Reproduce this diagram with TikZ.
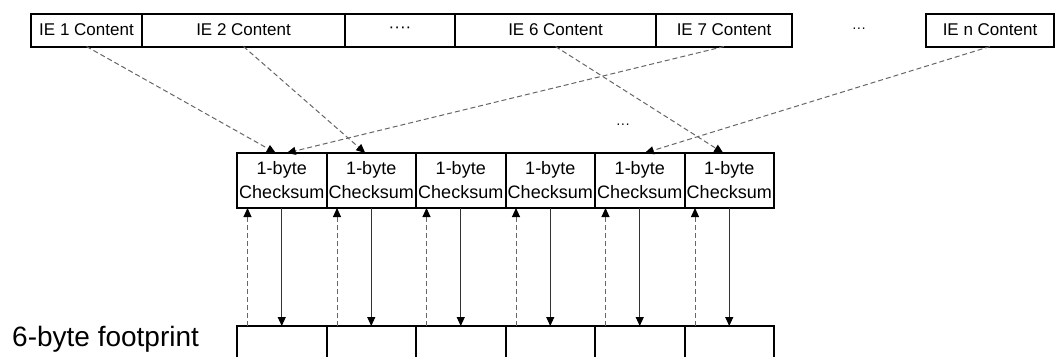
\documentclass[tikz,border=0pt]{standalone}
\usepackage{fontspec}
\setmainfont{Liberation Sans}
\definecolor{dashgrey}{HTML}{666666}
\definecolor{darkgrey}{HTML}{333333}
\usetikzlibrary{arrows.meta, positioning}

\begin{document}
\begin{tikzpicture}[
        x=1pt, y=-1pt,
        iebox/.style={rectangle, draw, line width=2pt, outer sep=0pt, inner sep=0pt, minimum height=33pt, font=\fontsize{17}{20}\selectfont},
        sumbox/.style={rectangle, draw, line width=2pt, outer sep=0pt, inner sep=0pt, minimum width=89.5pt, minimum height=55pt, align=center, font=\fontsize{18}{24}\selectfont},
        footbox/.style={rectangle, draw, line width=2pt, outer sep=0pt, minimum width=89.5pt, minimum height=60pt},
        dots/.style={inner sep=0pt, font=\fontsize{14}{16}\selectfont},
        map/.style={draw=dashgrey, line width=1pt, dash pattern=on 5pt off 3pt, -{Triangle[length=9pt, width=8pt, color=black]}},
        fetch/.style={draw=darkgrey, line width=1pt, -{Triangle[length=9pt, width=8pt, color=black]}}
    ]
        \useasboundingbox (0,0) rectangle (1056,356);
        \clip (0,0) rectangle (1056,356);

        % IE content row (top)
        \node [iebox, minimum width=111pt, anchor=north west] (ie1) at (31,13.5) {IE 1 Content};
        \node [iebox, minimum width=203pt, right=0pt of ie1] (ie2) {IE 2 Content};
        \node [iebox, minimum width=110pt, right=0pt of ie2] (iegap) {\raisebox{-2pt}{····}};
        \node [iebox, minimum width=201pt, right=0pt of iegap] (ie6) {IE 6 Content};
        \node [iebox, minimum width=136pt, right=0pt of ie6] (ie7) {IE 7 Content};
        \node [dots] (topdots) at (859,30) {···};
        \node [iebox, minimum width=128pt, anchor=north west] (ien) at (926,13.5) {IE n Content};

        % Checksum row (middle)
        \node [sumbox, anchor=north west] (sum1) at (237,153) {1-byte\\Checksum};
        \node [sumbox, right=0pt of sum1] (sum2) {1-byte\\Checksum};
        \node [sumbox, right=0pt of sum2] (sum3) {1-byte\\Checksum};
        \node [sumbox, right=0pt of sum3] (sum4) {1-byte\\Checksum};
        \node [sumbox, right=0pt of sum4] (sum5) {1-byte\\Checksum};
        \node [sumbox, right=0pt of sum5] (sum6) {1-byte\\Checksum};
        \node [dots] (middots) at (623,126) {···};

        % Footprint row (bottom, cut off by the frame)
        \node [footbox, anchor=north west] (foot1) at (237,326) {};
        \node [footbox, right=0pt of foot1] (foot2) {};
        \node [footbox, right=0pt of foot2] (foot3) {};
        \node [footbox, right=0pt of foot3] (foot4) {};
        \node [footbox, right=0pt of foot4] (foot5) {};
        \node [footbox, right=0pt of foot5] (foot6) {};
        \node [anchor=base west, inner sep=0pt, font=\fontsize{28}{32}\selectfont] (footlabel) at (12,346) {6-byte footprint};

        % IE content -> checksum
        \draw [map] (ie1.south) -- ([xshift=-6pt]sum1.north);
        \draw [map] (ie7.south) -- ([xshift=5pt]sum1.north);
        \draw [map] (ie2.south) -- ([xshift=-6pt]sum2.north);
        \draw [map] (ien.south) -- ([xshift=5pt]sum5.north);
        \draw [map] (ie6.south) -- ([xshift=-6pt]sum6.north);

        % Footprint <-> checksum
        \draw [map] ([xshift=10.5pt]foot1.north west) -- ([xshift=10.5pt]sum1.south west);
        \draw [fetch] (sum1.south) -- (foot1.north);
        \draw [map] ([xshift=10.5pt]foot2.north west) -- ([xshift=10.5pt]sum2.south west);
        \draw [fetch] (sum2.south) -- (foot2.north);
        \draw [map] ([xshift=10.5pt]foot3.north west) -- ([xshift=10.5pt]sum3.south west);
        \draw [fetch] (sum3.south) -- (foot3.north);
        \draw [map] ([xshift=10.5pt]foot4.north west) -- ([xshift=10.5pt]sum4.south west);
        \draw [fetch] (sum4.south) -- (foot4.north);
        \draw [map] ([xshift=10.5pt]foot5.north west) -- ([xshift=10.5pt]sum5.south west);
        \draw [fetch] (sum5.south) -- (foot5.north);
        \draw [map] ([xshift=10.5pt]foot6.north west) -- ([xshift=10.5pt]sum6.south west);
        \draw [fetch] (sum6.south) -- (foot6.north);

    \end{tikzpicture}
\end{document}
